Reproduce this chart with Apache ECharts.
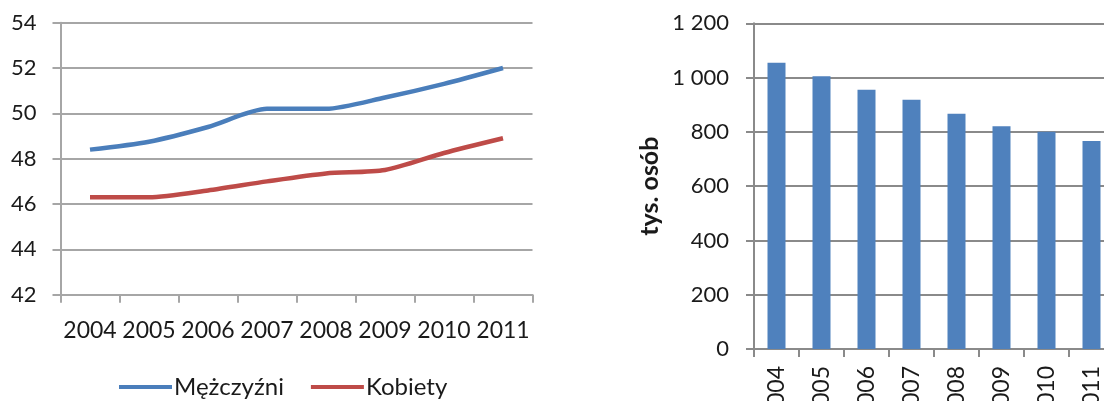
<!DOCTYPE html>
<html>
<head>
<meta charset="utf-8">
<script src="https://cdn.jsdelivr.net/npm/echarts@6/dist/echarts.min.js"></script>
<style>
html,body{margin:0;padding:0;background:#fff;}
#c{width:1104px;height:401px;}
</style>
</head>
<body>
<div id="c"></div>
<script>
const years = ['2004','2005','2006','2007','2008','2009','2010','2011'];
const men = [48.4, 48.75, 49.4, 50.2, 50.2, 50.7, 51.3, 52.0];
const women = [46.3, 46.3, 46.6, 47.0, 47.35, 47.5, 48.25, 48.9];
const seriesNames = ['Mężczyźni', 'Kobiety'];
const people = [1055, 1005, 955, 918, 867, 821, 800, 766];
const barAxisName = 'tys. osób';

const FONT = 'Lato';
const TXT = '#1a1a1a';
const chart = echarts.init(document.getElementById('c'));
chart.setOption({
  animation: false,
  backgroundColor: '#fff',
  textStyle: {fontFamily: FONT, color: TXT},
  legend: {
    data: seriesNames,
    left: 114, top: 370,
    icon: 'rect', itemWidth: 53, itemHeight: 4, itemGap: 27,
    textStyle: {fontFamily: FONT, fontSize: 24, color: TXT, padding: [0,0,0,-3]}
  },
  grid: [
    {left: 60.5, top: 22.7, width: 472, height: 272, containLabel: false, outerBoundsMode: 'none'},
    {left: 754, top: 23.3, width: 360, height: 325.7, containLabel: false, outerBoundsMode: 'none'}
  ],
  xAxis: [
    {type: 'category', gridIndex: 0, data: years, boundaryGap: true,
     axisLine: {lineStyle: {color: '#a6a6a6', width: 2}},
     axisTick: {show: true, length: 8, lineStyle: {color: '#a6a6a6', width: 2}},
     axisLabel: {fontFamily: FONT, fontSize: 23, color: TXT, margin: 24, interval: 0}},
    {type: 'category', gridIndex: 1, data: years, boundaryGap: true,
     axisLine: {lineStyle: {color: '#8a8a8a', width: 2}},
     axisTick: {show: true, length: 8, lineStyle: {color: '#8a8a8a', width: 2}},
     axisLabel: {fontFamily: FONT, fontSize: 23, color: TXT, margin: 17, rotate: 90, interval: 0}}
  ],
  yAxis: [
    {type: 'value', gridIndex: 0, min: 42, max: 54, interval: 2,
     axisLine: {show: true, lineStyle: {color: '#a6a6a6', width: 2}},
     axisTick: {show: true, length: 8, lineStyle: {color: '#a6a6a6', width: 2}},
     splitLine: {lineStyle: {color: '#a6a6a6', width: 2}},
     axisLabel: {fontFamily: FONT, fontSize: 22, color: TXT, margin: 24}},
    {type: 'value', gridIndex: 1, min: 0, max: 1200, interval: 200,
     name: barAxisName, nameLocation: 'middle', nameGap: 92, nameRotate: 90,
     nameTextStyle: {fontFamily: FONT, fontSize: 25, fontWeight: 'bold', color: TXT},
     axisLine: {show: true, lineStyle: {color: '#8a8a8a', width: 2}},
     axisTick: {show: true, length: 8, lineStyle: {color: '#8a8a8a', width: 2}},
     splitLine: {lineStyle: {color: '#8a8a8a', width: 2}},
     axisLabel: {fontFamily: FONT, fontSize: 22, color: TXT, margin: 25,
       formatter: v => String(v).replace(/\B(?=(\d{3})+(?!\d))/g, ' ')}}
  ],
  series: [
    {name: seriesNames[0], type: 'line', xAxisIndex: 0, yAxisIndex: 0, data: men,
     smooth: 0.25, showSymbol: false, symbol: 'none',
     lineStyle: {color: '#4a7ebb', width: 4.5}, itemStyle: {color: '#4a7ebb'}},
    {name: seriesNames[1], type: 'line', xAxisIndex: 0, yAxisIndex: 0, data: women,
     smooth: 0.25, showSymbol: false, symbol: 'none',
     lineStyle: {color: '#be4b48', width: 4.5}, itemStyle: {color: '#be4b48'}},
    {name: barAxisName, type: 'bar', xAxisIndex: 1, yAxisIndex: 1, data: people,
     barWidth: '40%', itemStyle: {color: '#4f81bd'}}
  ]
});
</script>
</body>
</html>
